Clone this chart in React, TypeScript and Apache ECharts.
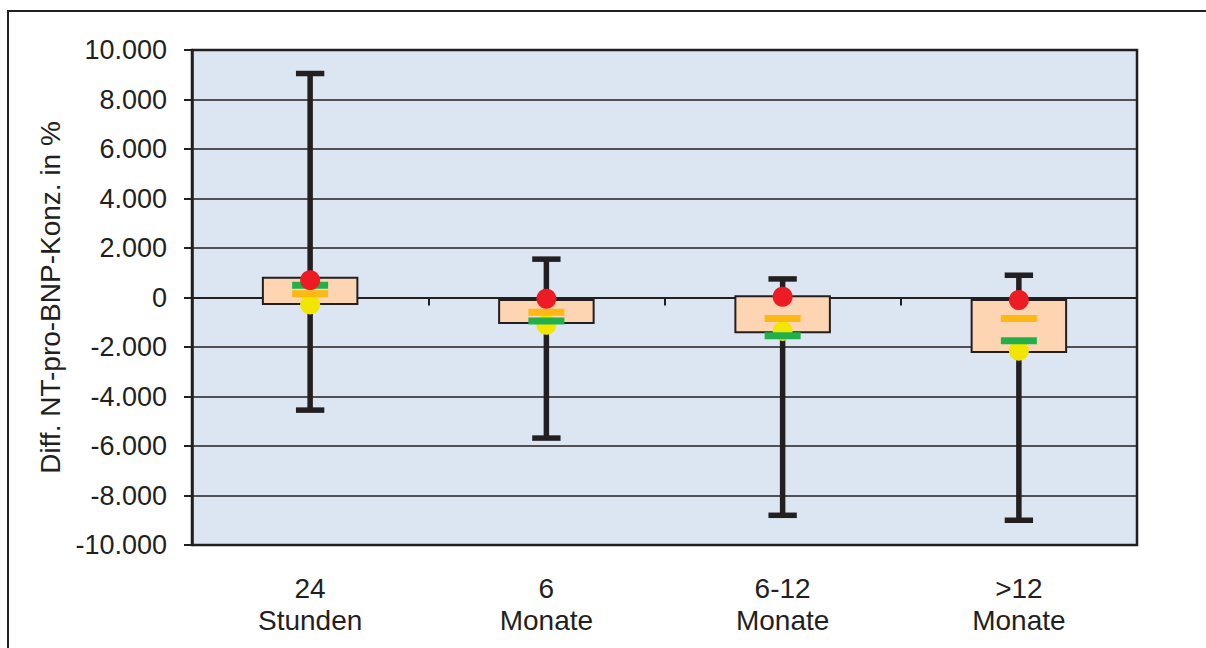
import React, { useEffect, useRef } from "react";
import * as echarts from "echarts";

const categories = ["24\nStunden", "6\nMonate", "6-12\nMonate", ">12\nMonate"];
const whiskerMax = [9050, 1550, 750, 900];
const whiskerMin = [-4550, -5680, -8800, -9000];
const boxTop = [800, -100, 50, -100];
const boxBottom = [-260, -1030, -1400, -2200];
const redDot = [700, -50, 30, -100];
const greenBar = [500, -950, -1550, -1750];
const orangeBar = [150, -600, -850, -850];
const yellowDot = [-280, -1100, -1350, -2150];

const yMin = -10000;
const yMax = 10000;
const yStep = 2000;

const DARK = "#231f20";
const FONT = "'Liberation Sans', Arial, sans-serif";

function fmt(v: number): string {
  const s = Math.abs(v).toString();
  const withDots = s.replace(/\B(?=(\d{3})+(?!\d))/g, ".");
  return (v < 0 ? "-" : "") + withDots;
}

export default function App() {
  const ref = useRef<HTMLDivElement>(null);
  useEffect(() => {
    if (!ref.current) return;
    const chart = echarts.init(ref.current, null, { renderer: "svg" });
    const boxData = categories.map((_, i) => [i, whiskerMin[i], boxBottom[i], boxTop[i], whiskerMax[i]]);
    chart.setOption({
      animation: false,
      backgroundColor: "#ffffff",
      graphic: [
        {
          type: "rect",
          shape: { x: 8, y: 11, width: 1300, height: 700 },
          style: { fill: "none", stroke: DARK, lineWidth: 2 },
          z: 0,
          silent: true,
        },
      ],
      grid: {
        left: 192,
        right: 1206 - 1137,
        top: 50,
        bottom: 648 - 545,
        show: true,
        backgroundColor: "#dce6f2",
        borderColor: DARK,
        borderWidth: 2.5,
      },
      xAxis: [
        {
          type: "category",
          data: categories,
          boundaryGap: true,
          position: "bottom",
          axisLine: { onZero: true, lineStyle: { color: DARK, width: 2 } },
          axisTick: { show: true, length: 8, inside: false, lineStyle: { color: DARK, width: 2 } },
          axisLabel: { show: false },
          splitLine: { show: false },
        },
        {
          type: "category",
          data: categories,
          position: "bottom",
          axisLine: { show: false, onZero: false },
          axisTick: { show: false },
          axisLabel: {
            show: true,
            margin: 27,
            color: "#231f20",
            fontFamily: FONT,
            fontSize: 28,
            lineHeight: 32,
          },
          splitLine: { show: false },
        },
      ],
      yAxis: {
        type: "value",
        min: yMin,
        max: yMax,
        interval: yStep,
        name: "Diff. NT-pro-BNP-Konz. in %",
        nameLocation: "middle",
        nameGap: 124,
        nameTextStyle: { fontFamily: FONT, fontSize: 28, color: "#231f20" },
        axisLine: { show: true, lineStyle: { color: DARK, width: 2.5 } },
        axisTick: { show: true, length: 8, inside: false, lineStyle: { color: DARK, width: 2 } },
        axisLabel: {
          formatter: (v: number) => fmt(v),
          margin: 25,
          color: "#231f20",
          fontFamily: FONT,
          fontSize: 27,
        },
        splitLine: { show: true, lineStyle: { color: DARK, width: 1.5 } },
      },
      series: [
        {
          type: "custom",
          xAxisIndex: 0,
          z: 2,
          encode: { x: 0, y: [1, 2, 3, 4] },
          data: boxData,
          renderItem: (params: any, api: any) => {
            const idx = api.value(0);
            const pMin = api.coord([idx, api.value(1)]);
            const pBot = api.coord([idx, api.value(2)]);
            const pTop = api.coord([idx, api.value(3)]);
            const pMax = api.coord([idx, api.value(4)]);
            const band = api.size([1, 0])[0];
            const bw = band * 0.4;
            const cw = band * 0.12;
            const cx = pMax[0];
            return {
              type: "group",
              children: [
                {
                  type: "line",
                  shape: { x1: cx, y1: pMax[1], x2: cx, y2: pMin[1] },
                  style: { stroke: DARK, lineWidth: 5.5 },
                },
                {
                  type: "line",
                  shape: { x1: cx - cw / 2, y1: pMax[1], x2: cx + cw / 2, y2: pMax[1] },
                  style: { stroke: DARK, lineWidth: 5.5 },
                },
                {
                  type: "line",
                  shape: { x1: cx - cw / 2, y1: pMin[1], x2: cx + cw / 2, y2: pMin[1] },
                  style: { stroke: DARK, lineWidth: 5.5 },
                },
                {
                  type: "rect",
                  shape: { x: cx - bw / 2, y: pTop[1], width: bw, height: pBot[1] - pTop[1] },
                  style: { fill: "#fdd5b3", stroke: DARK, lineWidth: 2 },
                },
              ],
            };
          },
        },
        {
          type: "scatter",
          xAxisIndex: 0,
          z: 3,
          symbol: "circle",
          symbolSize: 20,
          itemStyle: { color: "#f2e600", opacity: 1 },
          data: yellowDot,
        },
        {
          type: "scatter",
          xAxisIndex: 0,
          z: 4,
          symbol: "rect",
          symbolSize: [36, 7],
          itemStyle: { color: "#fdb913", opacity: 1 },
          data: orangeBar,
        },
        {
          type: "scatter",
          xAxisIndex: 0,
          z: 5,
          symbol: "rect",
          symbolSize: [36, 7],
          itemStyle: { color: "#22b04b", opacity: 1 },
          data: greenBar,
        },
        {
          type: "scatter",
          xAxisIndex: 0,
          z: 6,
          symbol: "circle",
          symbolSize: 20,
          itemStyle: { color: "#ed1c24", opacity: 1 },
          data: redDot,
        },
      ],
    });
    return () => chart.dispose();
  }, []);
  return (
    <div
      ref={ref}
      style={{ position: "fixed", left: 0, top: 0, width: 1206, height: 648 }}
    />
  );
}
